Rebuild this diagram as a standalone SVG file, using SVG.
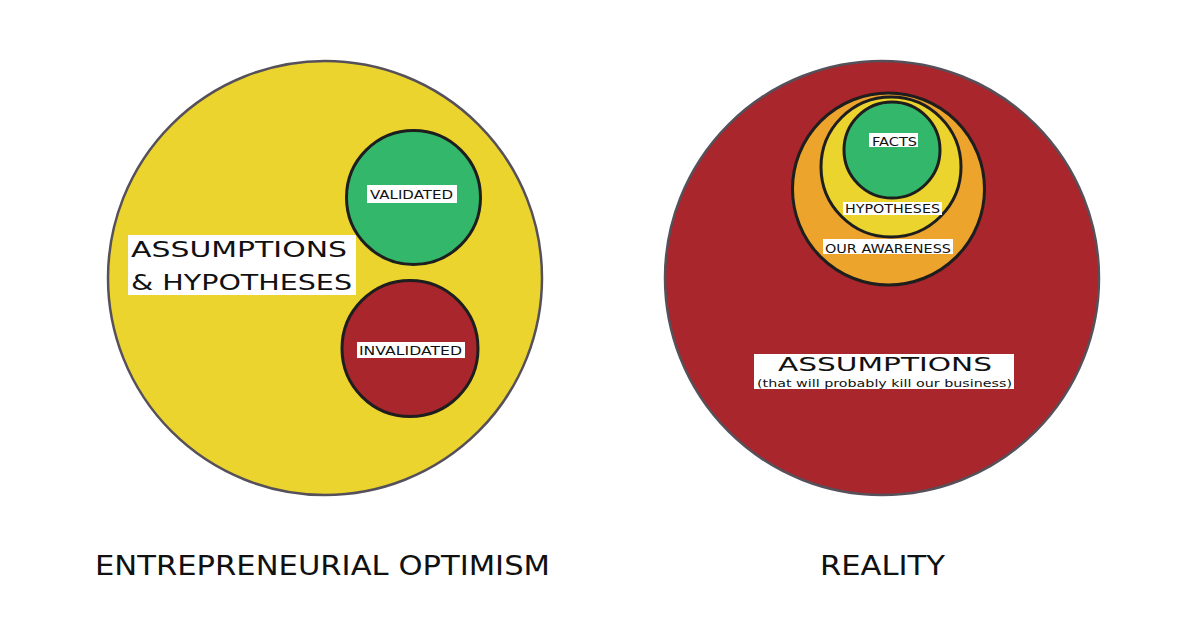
<svg xmlns="http://www.w3.org/2000/svg" width="1200" height="628" viewBox="0 0 1200 628">
<style>
.outer{stroke:#55505a;stroke-width:2.5}
.inner{stroke:#1e1e1e;stroke-width:3}
.box{fill:#ffffff}
text{font-family:"DejaVu Sans","Liberation Sans",sans-serif;fill:#111111}
.s{font-size:12px}
.m{font-size:22px}
.b{font-size:27px}
</style>
<rect width="1200" height="628" fill="#ffffff"/>
<g id="left-diagram">
<g id="assumptions-hypotheses">
<circle cx="325" cy="278" r="217" fill="#ebd42e" class="outer"/>
<rect class="box" x="128" y="235" width="228" height="60"/>
<text class="m" x="131" y="257" textLength="216" lengthAdjust="spacingAndGlyphs">ASSUMPTIONS</text>
<text class="m" x="131" y="290" textLength="221" lengthAdjust="spacingAndGlyphs">&amp; HYPOTHESES</text>
</g>
<g id="validated">
<circle cx="413.5" cy="197.5" r="67" fill="#33b86b" class="inner"/>
<rect class="box" x="367" y="185" width="90" height="18"/>
<text class="s" x="370" y="199" textLength="83" lengthAdjust="spacingAndGlyphs">VALIDATED</text>
</g>
<g id="invalidated">
<circle cx="410" cy="348.5" r="68" fill="#a8262c" class="inner"/>
<rect class="box" x="357" y="342" width="108" height="16"/>
<text class="s" x="359" y="355" textLength="103" lengthAdjust="spacingAndGlyphs">INVALIDATED</text>
</g>
<text id="title-left" class="b" x="95" y="575" textLength="455" lengthAdjust="spacingAndGlyphs">ENTREPRENEURIAL OPTIMISM</text>
</g>
<g id="right-diagram">
<g id="assumptions">
<circle cx="882" cy="278" r="217" fill="#a8262c" class="outer"/>
<rect class="box" x="754" y="354" width="260" height="35"/>
<text x="778" y="371" font-size="19" textLength="214" lengthAdjust="spacingAndGlyphs">ASSUMPTIONS</text>
<text x="757" y="386.5" font-size="10.5" textLength="255" lengthAdjust="spacingAndGlyphs">(that will probably kill our business)</text>
</g>
<g id="our-awareness">
<circle cx="888.5" cy="189" r="96" fill="#eca42c" class="inner"/>
<rect class="box" x="823" y="239" width="130" height="15"/>
<text class="s" x="825" y="252.5" textLength="126" lengthAdjust="spacingAndGlyphs">OUR AWARENESS</text>
</g>
<g id="hypotheses">
<circle cx="891" cy="167" r="70" fill="#ebd42e" class="inner"/>
<rect class="box" x="843" y="202" width="99" height="13"/>
<text class="s" x="845" y="212.5" textLength="95" lengthAdjust="spacingAndGlyphs">HYPOTHESES</text>
</g>
<g id="facts">
<circle cx="892" cy="150" r="48" fill="#33b86b" class="inner"/>
<rect class="box" x="869" y="133" width="49" height="14"/>
<text class="s" x="872" y="145.5" textLength="45" lengthAdjust="spacingAndGlyphs">FACTS</text>
</g>
<text id="title-right" class="b" x="820" y="575" textLength="125" lengthAdjust="spacingAndGlyphs">REALITY</text>
</g>
<g id="connectors"/>
</svg>
